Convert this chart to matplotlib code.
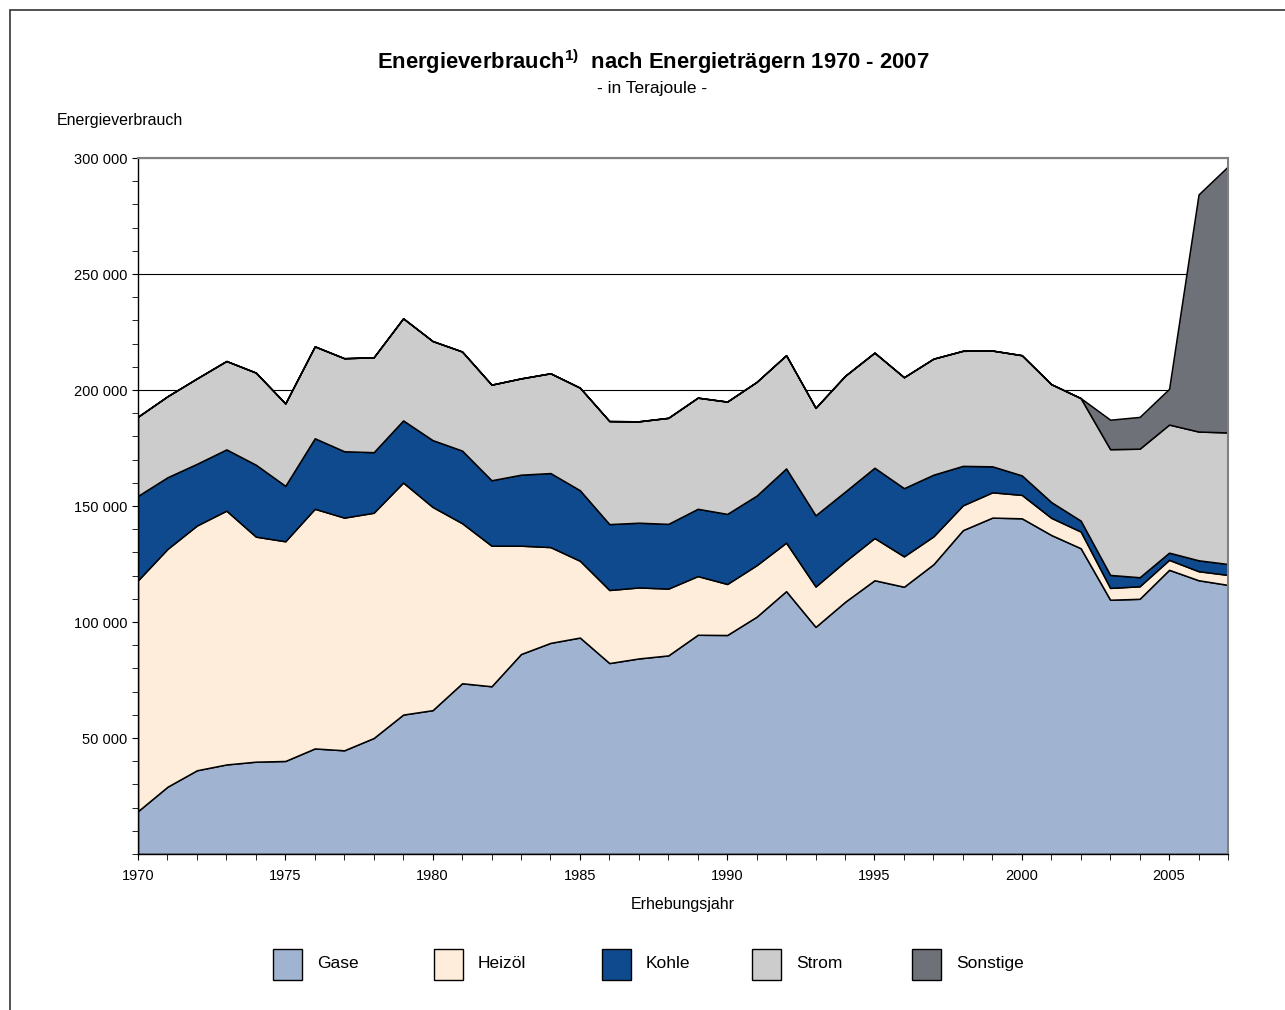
import matplotlib.pyplot as plt
import numpy as np
from matplotlib.patches import Rectangle
from matplotlib.ticker import FuncFormatter, MultipleLocator

plt.rcParams['font.family'] = ['Liberation Sans', 'DejaVu Sans']
plt.rcParams['mathtext.fontset'] = 'custom'
plt.rcParams['mathtext.bf'] = 'Liberation Sans:bold'
plt.rcParams['mathtext.rm'] = 'Liberation Sans'

years = list(range(1970, 2008))

# Energieverbrauch je Träger in Terajoule
gase = [18500, 29000, 36100, 38600, 39800, 40100, 45500, 44700, 50000, 60100,
        62000, 73600, 72300, 86200, 91000, 93300, 82300, 84300, 85600, 94500,
        94400, 102300, 113300, 97900, 108700, 118000, 115200, 124900, 139600, 145000,
        144700, 137500, 131800, 109600, 110000, 122500, 118000, 116000]
heizoel = [99500, 102500, 105500, 109400, 97000, 94700, 103300, 100300, 97100, 100000,
           87600, 69000, 60600, 46700, 41300, 33100, 31500, 30600, 28800, 25300,
           22000, 22200, 20900, 17400, 17400, 18200, 13100, 12000, 10700, 10900,
           10100, 7400, 7200, 5100, 5400, 4300, 3900, 4300]
kohle = [36400, 30900, 26600, 26400, 31000, 23900, 30400, 28600, 26100, 26800,
         28800, 31300, 28200, 30600, 31900, 30400, 28400, 27900, 27900, 29000,
         30200, 30000, 32000, 30700, 30100, 30300, 29400, 26600, 17000, 11200,
         8400, 6800, 4700, 5600, 3900, 3100, 4700, 4700]
strom = [34100, 34900, 36800, 38100, 39700, 35500, 39600, 40100, 40900, 44000,
         42700, 42700, 41200, 41500, 43000, 44200, 44400, 43700, 45700, 47900,
         48400, 49000, 48800, 46300, 49900, 49600, 47800, 50000, 49600, 49900,
         51800, 50800, 52800, 54200, 55400, 55200, 55500, 56700]
sonstige = [0] * 33 + [12700, 13700, 15400, 102200, 114700]

labels = ['Gase', 'Heizöl', 'Kohle', 'Strom', 'Sonstige']
colors = ['#A0B4D2', '#FEEDDA', '#0F4A8E', '#CCCCCC', '#6E7177']

W, H = 1285, 1010
fig = plt.figure(figsize=(W / 100, H / 100), dpi=100)
ax = fig.add_axes([138 / W, 1 - 854 / H, (1228 - 138) / W, (854 - 158) / H])

ax.stackplot(years, gase, heizoel, kohle, strom, sonstige, colors=colors,
             edgecolor='black', linewidth=1.1, zorder=2)

ax.set_xlim(1970, 2007)
ax.set_ylim(0, 300000)
ax.set_yticks(range(50000, 300001, 50000))
ax.yaxis.set_minor_locator(MultipleLocator(10000))
ax.xaxis.set_major_locator(MultipleLocator(5))
ax.xaxis.set_minor_locator(MultipleLocator(1))
ax.yaxis.set_major_formatter(FuncFormatter(lambda v, p: f'{int(v):,}'.replace(',', ' ')))
ax.tick_params(axis='both', which='both', direction='out', labelsize=10.5, color='black')
ax.tick_params(axis='both', which='major', length=4)
ax.tick_params(axis='both', which='minor', length=4)
ax.tick_params(axis='x', which='major', pad=7)
ax.grid(axis='y', color='black', linewidth=0.8, zorder=0)
ax.set_axisbelow(True)
for side in ['top', 'right']:
    ax.spines[side].set_color('#808080')
    ax.spines[side].set_linewidth(1.5)
for side in ['left', 'bottom']:
    ax.spines[side].set_color('black')
    ax.spines[side].set_linewidth(1.0)

ax.set_xlabel('Erhebungsjahr', fontsize=11.5, labelpad=10)

fig.text(0.5 * (370 + 936) / W, 1 - 62 / H,
         r'Energieverbrauch$^{\mathbf{1)}}$  nach Energieträgern 1970 - 2007',
         ha='center', va='center', fontsize=15.8, fontweight='bold')
fig.text(652 / W, 1 - 88 / H, '- in Terajoule -', ha='center', va='center', fontsize=12.5)
fig.text(57 / W, 1 - 120 / H, 'Energieverbrauch', ha='left', va='center', fontsize=11.5)

# Rahmen
fig.add_artist(Rectangle((10 / W, -0.1), 1.2, 1 - 10 / H + 0.1, transform=fig.transFigure,
                         fill=False, edgecolor='#333333', linewidth=1.2))

# Legende
legend_x = [273, 434, 602, 752, 912]
for lx, lab, col in zip(legend_x, labels, colors):
    fig.add_artist(Rectangle((lx / W, 1 - 980 / H), 29 / W, 31 / H,
                             transform=fig.transFigure, facecolor=col,
                             edgecolor='black', linewidth=1.0))
    fig.text((lx + 44) / W, 1 - 962 / H, lab, ha='left', va='center_baseline', fontsize=12.5)

fig.savefig('out.png', dpi=100)
